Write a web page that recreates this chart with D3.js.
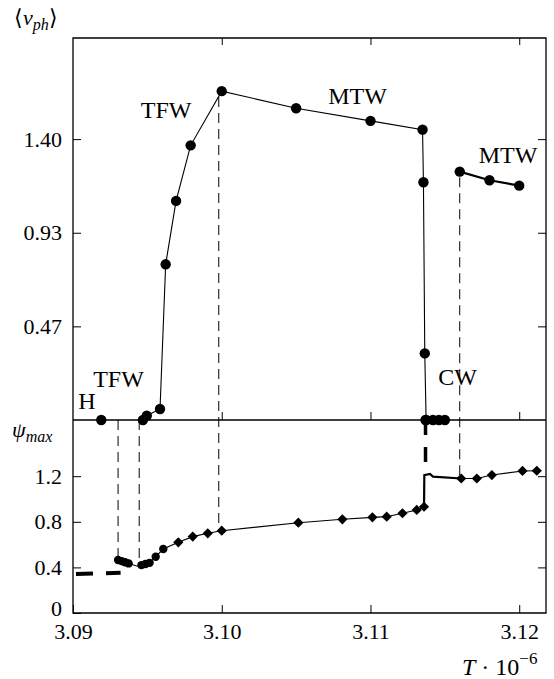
<!DOCTYPE html>
<html><head><meta charset="utf-8">
<script src="https://cdn.jsdelivr.net/npm/d3@7"></script>
<style>
body{margin:0;background:#fff}
svg{display:block}
text{font-family:"Liberation Serif","Times New Roman",serif;fill:#000}
</style>
</head><body>
<svg id="chart" width="554" height="679"></svg>
<script>
// ---- axis ticks ----
const tTicks = [3.09, 3.10, 3.11, 3.12];
const vTicks = [0.4667, 0.9333, 1.40];
const psiTicks = [0, 0.4, 0.8, 1.2];

// ---- mean phase velocity <v_ph> vs T ----
const hT = [3.0919];
const hV = [0];
const tfwT = [3.0947, 3.09496, 3.09585, 3.09623, 3.09693, 3.09791, 3.1000];
const tfwV = [0, 0.021, 0.055, 0.776, 1.092, 1.369, 1.639];
const mtwT = [3.1000, 3.1050, 3.1100, 3.1135, 3.11356, 3.11365, 3.11374];
const mtwV = [1.639, 1.554, 1.491, 1.447, 1.185, 0.332, 0];
const cwT = [3.1137, 3.1142, 3.1146, 3.1150];
const cwV = [0, 0, 0, 0];
const mtw2T = [3.1160, 3.1180, 3.1200];
const mtw2V = [1.238, 1.195, 1.168];

// ---- maximum amplitude psi_max vs T ----
const psiHT = [3.0902, 3.0932];
const psiH = [0.342, 0.352];
const psiTfwAT = [3.09303, 3.09327, 3.0935, 3.09374];
const psiTfwA = [0.465, 0.455, 0.445, 0.435];
const psiTurnT = [3.09445];
const psiTurn = [0.406];
const psiTfwBT = [3.0946, 3.09487, 3.09515, 3.09556, 3.09607];
const psiTfwB = [0.42, 0.43, 0.44, 0.494, 0.561];
const psiMtwT = [3.09708, 3.09805, 3.09906, 3.1000, 3.10515, 3.10811, 3.11013, 3.11109, 3.11215, 3.11311, 3.1136];
const psiMtw = [0.62, 0.67, 0.699, 0.722, 0.792, 0.822, 0.839, 0.845, 0.875, 0.904, 0.932];
const psiCwT = [3.1136, 3.11362, 3.1140, 3.1142, 3.1161];
const psiCw = [0.932, 1.21, 1.219, 1.196, 1.18];
const psiMtw2T = [3.1161, 3.11715, 3.11816, 3.12022, 3.12118];
const psiMtw2 = [1.18, 1.18, 1.21, 1.246, 1.248];
const cwJumpT = [3.1137];
const cwJumpPsi = [1.30];

// transitions linking both panels
const linkT = [3.09303, 3.09445, 3.0998, 3.1160];
const linkV = [0, 0, 1.61, 1.21];
const linkPsi = [0.465, 0.406, 0.725, 1.21];

// branch names
const labelText = ["TFW", "MTW", "MTW", "TFW", "H", "CW"];
const labelT = [3.09626, 3.10913, 3.11925, 3.09306, 3.09094, 3.11586];
const labelV = [1.505, 1.575, 1.281, 0.1645, 0.055, 0.1745];

// ---- layout ----
const L = 73, R = 546, TOP = 38, MID = 420, BOT = 613;
const svg = d3.select("#chart");
svg.append("rect").attr("width", 554).attr("height", 679).attr("fill", "#fff");

const x = d3.scaleLinear().domain([3.09, 3.1218]).range([L, R]);
const yV = d3.scaleLinear().domain([0, 1.904]).range([MID, TOP]);
const yP = d3.scaleLinear().domain([0, 1.693]).range([BOT, MID]);

const zip = (a, b) => a.map((d, i) => [d, b[i]]);
const FS = 22;

// ---- axes ----
function styleAxis(g) {
  g.select(".domain").remove();
  g.selectAll(".tick line").attr("stroke", "#000").attr("stroke-width", 1);
  g.selectAll("text").attr("font-size", FS).attr("font-family", "Liberation Serif, serif").attr("fill", "#000");
}
// top panel
svg.append("g").attr("transform", `translate(${L},0)`)
  .call(d3.axisLeft(yV).tickValues(vTicks).tickSize(-8).tickPadding(11).tickFormat(d3.format(".2f")))
  .call(styleAxis);
svg.append("g").attr("transform", `translate(${R},0)`)
  .call(d3.axisRight(yV).tickValues(vTicks).tickSize(-8).tickFormat(""))
  .call(styleAxis);
svg.append("g").attr("transform", `translate(0,${TOP})`)
  .call(d3.axisTop(x).tickValues(tTicks.slice(1)).tickSize(-7).tickFormat(""))
  .call(styleAxis);
svg.append("g").attr("transform", `translate(0,${MID})`)
  .call(d3.axisBottom(x).tickValues(tTicks.slice(1)).tickSize(-8).tickFormat(""))
  .call(styleAxis);
// bottom panel
svg.append("g").attr("transform", `translate(${L},0)`)
  .call(d3.axisLeft(yP).tickValues(psiTicks).tickSize(-8).tickPadding(11)
    .tickFormat(d => d === 0 ? "0" : d3.format(".1f")(d)))
  .call(styleAxis)
  .call(g => g.selectAll(".tick text").filter(d => d === 0).attr("dy", "0.1em"));
svg.append("g").attr("transform", `translate(${R},0)`)
  .call(d3.axisRight(yP).tickValues(psiTicks.slice(1)).tickSize(-8).tickFormat(""))
  .call(styleAxis);
svg.append("g").attr("transform", `translate(0,${BOT})`)
  .call(d3.axisBottom(x).tickValues(tTicks).tickSize(-8).tickPadding(10).tickFormat(d3.format(".2f")))
  .call(styleAxis);

// frame
svg.append("path")
  .attr("d", `M${L},${TOP}H${R}V${BOT}H${L}Z M${L},${MID}H${R}`)
  .attr("fill", "none").attr("stroke", "#000").attr("stroke-width", 1.3);

// ---- dashed transition lines ----
svg.append("g").selectAll("line").data(linkT).join("line")
  .attr("x1", d => x(d)).attr("x2", d => x(d))
  .attr("y1", (d, i) => yV(linkV[i])).attr("y2", (d, i) => yP(linkPsi[i]))
  .attr("stroke", "#000").attr("stroke-width", 1).attr("stroke-dasharray", "10,6");

// ---- top panel curves ----
const lineV = d3.line().x(d => x(d[0])).y(d => yV(d[1]));
const lineP = d3.line().x(d => x(d[0])).y(d => yP(d[1]));

svg.append("path").datum(zip(tfwT, tfwV).concat(zip(mtwT, mtwV).slice(1)))
  .attr("d", lineV).attr("fill", "none").attr("stroke", "#000").attr("stroke-width", 1.1);
svg.append("path").datum(zip(mtw2T, mtw2V))
  .attr("d", lineV).attr("fill", "none").attr("stroke", "#000").attr("stroke-width", 2.2);

const topPts = [].concat(zip(hT, hV), zip(tfwT, tfwV), zip(mtwT, mtwV).slice(1), zip(cwT, cwV), zip(mtw2T, mtw2V));
svg.append("g").selectAll("circle").data(topPts).join("circle")
  .attr("cx", d => x(d[0])).attr("cy", d => yV(d[1])).attr("r", 5.2).attr("fill", "#000");

// ---- bottom panel curves ----
svg.append("path").datum(zip(psiHT, psiH))
  .attr("d", lineP).attr("fill", "none").attr("stroke", "#000").attr("stroke-width", 4)
  .attr("stroke-dasharray", "17,13");
svg.append("path").datum([[cwJumpT[0], yP.domain()[1]], [cwJumpT[0], cwJumpPsi[0]]])
  .attr("d", lineP).attr("fill", "none").attr("stroke", "#000").attr("stroke-width", 3.5)
  .attr("stroke-dasharray", "15,12");

svg.append("path")
  .datum([].concat(zip(psiTfwAT, psiTfwA), zip(psiTurnT, psiTurn), zip(psiTfwBT, psiTfwB), zip(psiMtwT, psiMtw)))
  .attr("d", lineP).attr("fill", "none").attr("stroke", "#000").attr("stroke-width", 1.1);
svg.append("path").datum(zip(psiCwT, psiCw))
  .attr("d", lineP).attr("fill", "none").attr("stroke", "#000").attr("stroke-width", 2.2);
svg.append("path").datum(zip(psiMtw2T, psiMtw2))
  .attr("d", lineP).attr("fill", "none").attr("stroke", "#000").attr("stroke-width", 1.1);

svg.append("g").selectAll("circle").data(zip(psiTfwAT, psiTfwA).concat(zip(psiTfwBT, psiTfwB))).join("circle")
  .attr("cx", d => x(d[0])).attr("cy", d => yP(d[1])).attr("r", 4.2).attr("fill", "#000");

const diamond = d3.symbol().type(d3.symbolSquare).size(52);
svg.append("g").selectAll("path").data(zip(psiMtwT, psiMtw).concat(zip(psiMtw2T, psiMtw2))).join("path")
  .attr("d", diamond)
  .attr("transform", d => `translate(${x(d[0])},${yP(d[1])}) rotate(45)`)
  .attr("fill", "#000");

// ---- branch labels ----
svg.append("g").selectAll("text").data(labelText).join("text")
  .attr("x", (d, i) => x(labelT[i])).attr("y", (d, i) => yV(labelV[i]))
  .attr("text-anchor", "middle").attr("font-size", 24).text(d => d);

// ---- axis titles ----
const vt = svg.append("text").attr("x", 14).attr("y", 25).attr("font-size", 22);
vt.append("tspan").text("\u27E8");
vt.append("tspan").attr("font-style", "italic").text("v");
vt.append("tspan").attr("font-style", "italic").attr("font-size", 16).attr("dy", 5).text("ph");
vt.append("tspan").attr("dy", -5).text("\u27E9");

const pt = svg.append("text").attr("x", 12).attr("y", 437).attr("font-size", 22);
pt.append("tspan").attr("font-style", "italic").text("\u03C8");
pt.append("tspan").attr("font-style", "italic").attr("font-size", 16).attr("dy", 5).text("max");

const tt = svg.append("text").attr("x", 462).attr("y", 675).attr("font-size", 24);
tt.append("tspan").attr("font-style", "italic").text("T");
tt.append("tspan").text(" \u00B7 10");
tt.append("tspan").attr("font-size", 17).attr("dy", -11).text("\u22126");
</script>
</body></html>
